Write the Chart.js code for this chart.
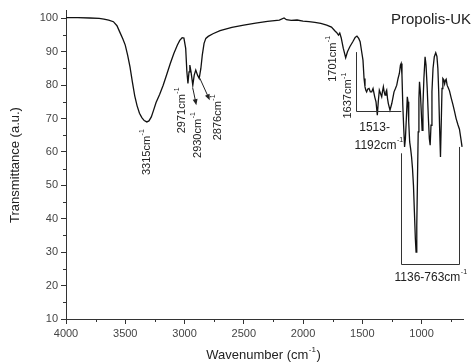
<!DOCTYPE html>
<html>
<head>
<meta charset="utf-8">
<script src="https://cdn.jsdelivr.net/npm/chart.js@4"></script>
<style>
  html, body { margin: 0; padding: 0; background: #fff; }
  #wrap { width: 474px; height: 363px; position: relative; }
</style>
</head>
<body>
<div id="wrap"><canvas id="ftir"></canvas></div>
<script>
// спектр: волновое число (см-1) и пропускание
const wavenumber = [
  4000, 3900, 3800, 3720, 3680, 3640, 3600, 3570, 3545, 3520, 3500, 3480, 3460, 3440, 3420, 3400,
  3380, 3360, 3340, 3318, 3300, 3280, 3260, 3240, 3210, 3180, 3150, 3120, 3090, 3060, 3040, 3020,
  3005, 2990, 2980, 2971, 2962, 2955, 2945, 2930, 2918, 2905, 2890, 2876, 2862, 2850, 2835, 2820,
  2800, 2760, 2700, 2600, 2500, 2400, 2300, 2200, 2160, 2140, 2100, 2050, 2000, 1950, 1900, 1850,
  1800, 1760, 1730, 1715, 1701, 1690, 1678, 1660, 1640, 1625, 1605, 1580, 1560, 1545, 1530, 1518,
  1505, 1494, 1485, 1477, 1470, 1463, 1455, 1443, 1432, 1420, 1409, 1395, 1384, 1373, 1365, 1356,
  1346, 1336, 1330, 1322, 1315, 1308, 1300, 1294, 1287, 1280, 1266, 1251, 1240, 1232, 1220, 1209,
  1198, 1187, 1178, 1172, 1165, 1158, 1150, 1143, 1136, 1128, 1120, 1114, 1108, 1100, 1092, 1084,
  1076, 1068, 1060, 1052, 1046, 1040, 1034, 1028, 1022, 1017, 1010, 1002, 995, 988, 980, 970,
  962, 952, 942, 934, 927, 920, 912, 903, 892, 880, 870, 862, 855, 848, 840, 834,
  827, 820, 812, 805, 798, 792, 784, 772, 764, 750, 736, 722, 708, 694, 680, 668, 658
];
const transmittance = [
  100.2, 100.2, 100.1, 100.0, 99.8, 99.5, 99.0, 97.8, 95.8, 93.8, 92.0, 89.0, 85.5, 81.0, 76.8, 73.8,
  71.6, 70.3, 69.4, 69.0, 69.3, 70.5, 72.6, 74.8, 77.2, 80.0, 83.2, 86.5, 89.5, 92.0, 93.4, 94.2,
  94.1, 91.0, 84.0, 80.5, 84.0, 86.0, 84.0, 80.0, 83.0, 84.5, 83.0, 82.0, 85.0, 89.0, 92.5, 94.0,
  94.6, 95.4, 96.3, 97.3, 98.0, 98.6, 99.1, 99.5, 100.1, 99.6, 99.4, 99.5, 99.2, 99.0, 98.8, 98.5,
  98.0, 97.4, 96.2, 95.7, 95.0, 95.6, 94.2, 91.0, 88.2, 90.0, 91.5, 93.0, 94.3, 94.7, 94.0, 93.0,
  90.0, 87.5, 82.0, 79.5, 78.5, 78.0, 78.8, 79.0, 78.0, 78.0, 79.0, 76.5, 75.0, 71.0, 75.0, 78.5,
  77.5, 76.5, 78.0, 79.5, 78.0, 77.0, 78.0, 78.5, 76.0, 74.5, 72.5, 74.5, 76.5, 78.0, 79.0, 80.0,
  82.0, 83.5, 86.0, 86.5, 83.0, 74.0, 67.0, 61.5, 64.0, 70.0, 76.5, 75.0, 69.0, 63.0, 61.0, 58.5,
  55.0, 50.0, 42.0, 34.0, 30.0, 38.0, 52.0, 66.0, 76.0, 81.0, 78.0, 72.0, 66.5, 74.0, 82.0, 88.5,
  86.0, 79.0, 70.0, 64.0, 62.0, 68.0, 78.0, 85.0, 88.5, 89.7, 88.6, 85.0, 78.0, 68.0, 58.5, 68.0,
  79.0, 82.0, 81.6, 80.4, 81.5, 81.8, 80.0, 79.0, 78.3, 76.2, 74.3, 72.2, 70.0, 68.3, 66.8, 64.0, 61.5
];
const xTicks = [4000, 3500, 3000, 2500, 2000, 1500, 1000];
const yTicks = [10, 20, 30, 40, 50, 60, 70, 80, 90, 100];

const FONT = "'Liberation Sans', Arial, sans-serif";
const INK = '#222';

// текст с верхним индексом, при rot=true повернут на 90° против часовой
function supText(ctx, main, sup, x, y, size, rot, align) {
  ctx.save();
  ctx.font = size + 'px ' + FONT;
  const w1 = ctx.measureText(main).width;
  ctx.font = Math.round(size * 0.62) + 'px ' + FONT;
  const w2 = sup ? ctx.measureText(sup).width : 0;
  ctx.translate(x, y);
  if (rot) ctx.rotate(-Math.PI / 2);
  let x0 = 0;
  if (align === 'center') x0 = -(w1 + w2) / 2;
  ctx.textBaseline = 'middle';
  ctx.textAlign = 'left';
  ctx.fillStyle = INK;
  ctx.font = size + 'px ' + FONT;
  ctx.fillText(main, x0, 0);
  if (sup) {
    ctx.font = Math.round(size * 0.62) + 'px ' + FONT;
    ctx.fillText(sup, x0 + w1 + 0.5, -size * 0.42);
  }
  ctx.restore();
  return w1 + w2;
}

function arrow(ctx, x1, y1, x2, y2) {
  const a = Math.atan2(y2 - y1, x2 - x1);
  ctx.beginPath(); ctx.moveTo(x1, y1); ctx.lineTo(x2 - 4 * Math.cos(a), y2 - 4 * Math.sin(a)); ctx.stroke();
  ctx.beginPath();
  ctx.moveTo(x2, y2);
  ctx.lineTo(x2 - 6 * Math.cos(a) + 2.5 * Math.sin(a), y2 - 6 * Math.sin(a) - 2.5 * Math.cos(a));
  ctx.lineTo(x2 - 6 * Math.cos(a) - 2.5 * Math.sin(a), y2 - 6 * Math.sin(a) + 2.5 * Math.cos(a));
  ctx.closePath(); ctx.fill();
}

// подписи, скобки, стрелки, мелкие засечки
const decor = {
  id: 'decor',
  afterDraw(chart) {
    const ctx = chart.ctx;
    const sx = chart.scales.x, sy = chart.scales.y;
    const X = v => sx.getPixelForValue(v), Y = v => sy.getPixelForValue(v);
    const ca = chart.chartArea;

    ctx.save();
    ctx.strokeStyle = '#333'; ctx.fillStyle = '#333'; ctx.lineWidth = 1;

    // минорные засечки
    ctx.beginPath();
    for (let v = 3750; v > 650; v -= 500) {
      const px = Math.round(X(v)) + 0.5;
      ctx.moveTo(px, ca.bottom); ctx.lineTo(px, ca.bottom + 3);
    }
    for (let v = 15; v < 100; v += 10) {
      const py = Math.round(Y(v)) + 0.5;
      ctx.moveTo(ca.left, py); ctx.lineTo(ca.left - 3, py);
    }
    ctx.stroke();

    // повернутые подписи пиков
    [[3318, 53.1, '3315cm'], [3025, 65.6, '2971cm'], [2885, 58.2, '2930cm'],
     [2717, 63.5, '2876cm'], [1750, 81, '1701cm'], [1618, 70, '1637cm']]
      .forEach(([v, t, s]) => supText(ctx, s, '-1', X(v), Y(t), 11, true));

    // стрелки
    ctx.strokeStyle = '#222'; ctx.fillStyle = '#222';
    arrow(ctx, X(2930), Y(79.1), X(2900), Y(74.0));
    arrow(ctx, X(2871), Y(82.1), X(2787), Y(75.5));

    // скобки
    ctx.strokeStyle = '#333';
    ctx.beginPath();
    ctx.moveTo(Math.round(X(1555)) + 0.5, Y(89.9));
    ctx.lineTo(Math.round(X(1555)) + 0.5, Math.round(Y(72.2)) + 0.5);
    ctx.lineTo(X(1171), Math.round(Y(72.2)) + 0.5);
    ctx.moveTo(Math.round(X(1171)) + 0.5, Y(59.6));
    ctx.lineTo(Math.round(X(1171)) + 0.5, Math.round(Y(26.6)) + 0.5);
    ctx.lineTo(Math.round(X(686)) + 0.5, Math.round(Y(26.6)) + 0.5);
    ctx.lineTo(Math.round(X(686)) + 0.5, Y(61.5));
    ctx.stroke();

    supText(ctx, '1513-', '', X(1396), Y(67.4), 12, false, 'center');
    supText(ctx, '1192cm', '-1', X(1362), Y(62), 12, false, 'center');
    supText(ctx, '1136-763cm', '-1', X(924), Y(22.5), 12, false, 'center');

    // заголовок образца
    ctx.font = '15px ' + FONT; ctx.fillStyle = INK;
    ctx.textAlign = 'right'; ctx.textBaseline = 'middle';
    ctx.fillText('Propolis-UK', 471, 20);

    // подписи осей
    ctx.save();
    ctx.translate(15, 165); ctx.rotate(-Math.PI / 2);
    ctx.font = '13px ' + FONT; ctx.textAlign = 'center';
    ctx.fillText('Transmittance (a.u.)', 0, 0);
    ctx.restore();

    ctx.font = '13px ' + FONT;
    const a = ctx.measureText('Wavenumber (cm').width;
    ctx.font = '8px ' + FONT;
    const b = ctx.measureText('-1').width;
    ctx.font = '13px ' + FONT;
    const c = ctx.measureText(')').width;
    let x0 = 263 - (a + b + c) / 2;
    ctx.textAlign = 'left';
    ctx.fillText('Wavenumber (cm', x0, 355);
    ctx.font = '8px ' + FONT; ctx.fillText('-1', x0 + a + 0.5, 350);
    ctx.font = '13px ' + FONT; ctx.fillText(')', x0 + a + b + 1, 355);

    ctx.restore();
  }
};

new Chart(document.getElementById('ftir'), {
  type: 'line',
  data: {
    datasets: [{
      data: wavenumber.map((w, i) => ({ x: w, y: transmittance[i] })),
      borderColor: '#111',
      borderWidth: 1.3,
      pointRadius: 0,
      tension: 0,
      fill: false
    }]
  },
  options: {
    responsive: true,
    maintainAspectRatio: false,
    animation: false,
    layout: { padding: { top: 10, right: 11, left: 0, bottom: 0 } },
    plugins: { legend: { display: false }, tooltip: { enabled: false } },
    scales: {
      x: {
        type: 'linear', reverse: true, min: 650, max: 4000,
        afterBuildTicks: s => { s.ticks = xTicks.map(v => ({ value: v })); },
        afterFit: s => { s.height = 44; },
        grid: { drawOnChartArea: false, drawTicks: true, tickLength: 5, color: '#333' },
        border: { color: '#333', width: 1 },
        ticks: { color: '#444', font: { size: 11, family: FONT }, padding: 3, maxRotation: 0, callback: v => String(v) }
      },
      y: {
        min: 10, max: 102.5,
        afterBuildTicks: s => { s.ticks = yTicks.map(v => ({ value: v })); },
        afterFit: s => { s.width = 66; },
        grid: { drawOnChartArea: false, drawTicks: true, tickLength: 5, color: '#333' },
        border: { color: '#333', width: 1 },
        ticks: { color: '#444', font: { size: 11, family: FONT }, padding: 3, callback: v => String(v) }
      }
    }
  },
  plugins: [decor]
});
</script>
</body>
</html>
